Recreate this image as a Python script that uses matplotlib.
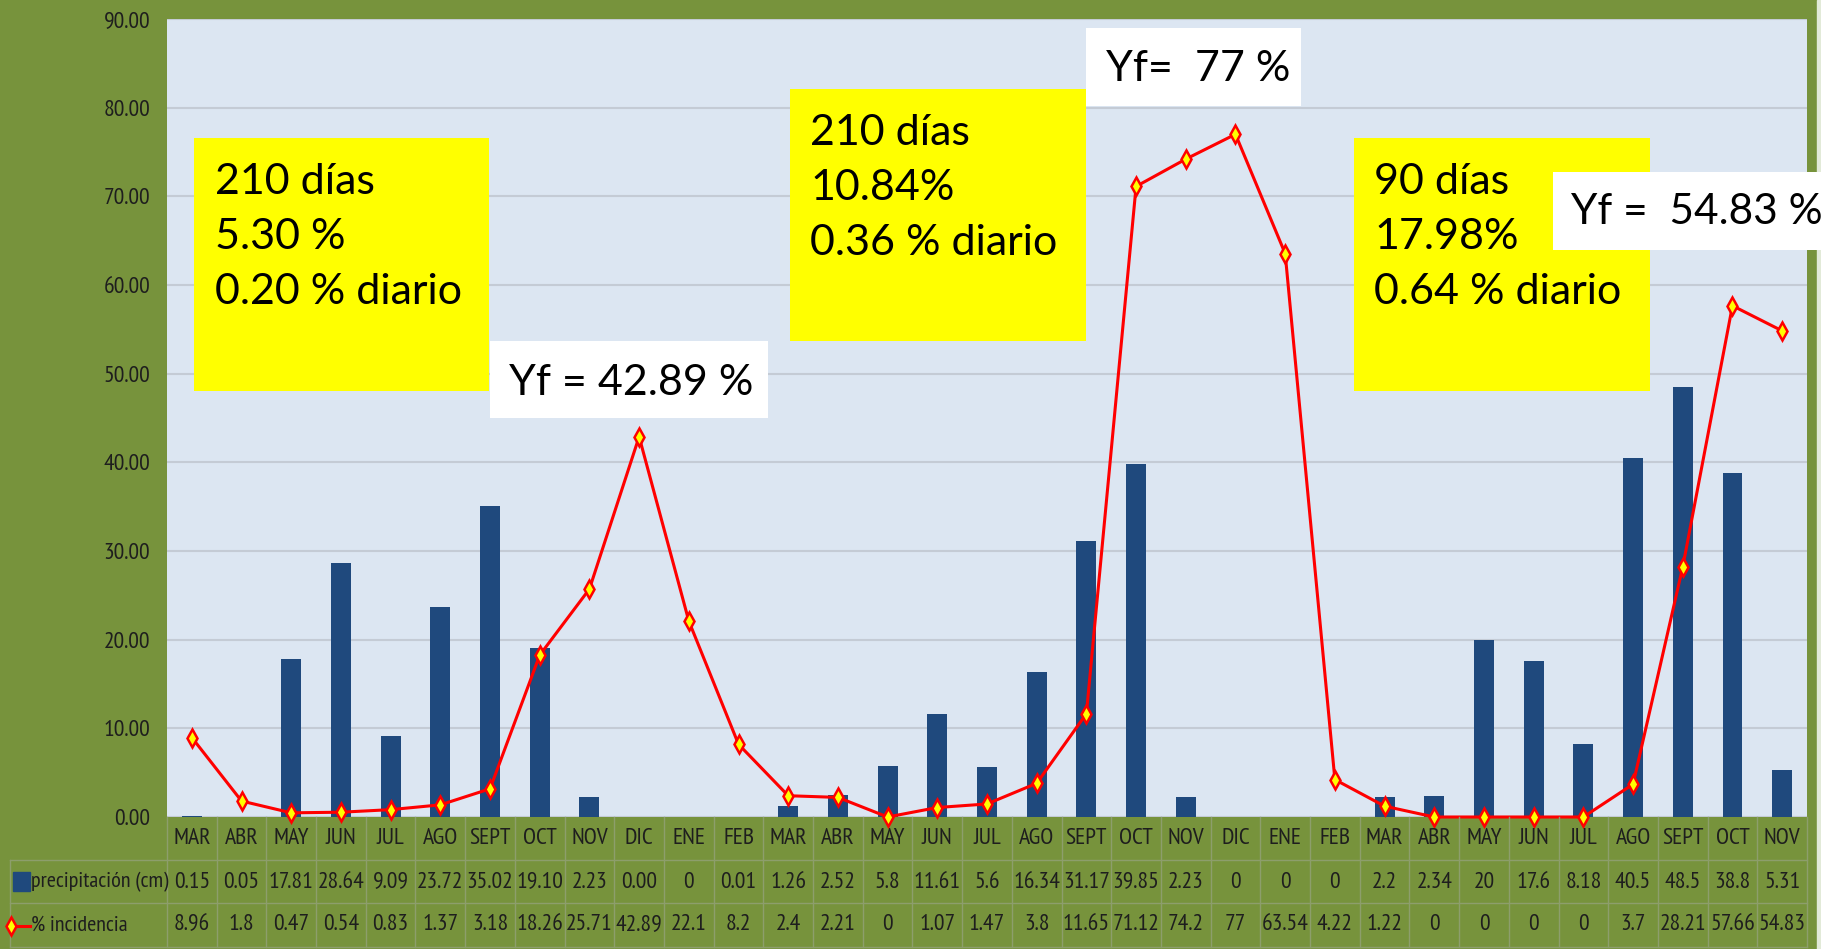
import matplotlib
matplotlib.use("AGG")
import matplotlib.pyplot as plt
from matplotlib.patches import Rectangle
from matplotlib.lines import Line2D
from matplotlib.transforms import blended_transform_factory

months = ["MAR", "ABR", "MAY", "JUN", "JUL", "AGO", "SEPT", "OCT", "NOV", "DIC", "ENE", "FEB",
          "MAR", "ABR", "MAY", "JUN", "JUL", "AGO", "SEPT", "OCT", "NOV", "DIC", "ENE", "FEB",
          "MAR", "ABR", "MAY", "JUN", "JUL", "AGO", "SEPT", "OCT", "NOV"]
precip_txt = ["0.15", "0.05", "17.81", "28.64", "9.09", "23.72", "35.02", "19.10", "2.23", "0.00", "0", "0.01",
              "1.26", "2.52", "5.8", "11.61", "5.6", "16.34", "31.17", "39.85", "2.23", "0", "0", "0",
              "2.2", "2.34", "20", "17.6", "8.18", "40.5", "48.5", "38.8", "5.31"]
incid_txt = ["8.96", "1.8", "0.47", "0.54", "0.83", "1.37", "3.18", "18.26", "25.71", "42.89", "22.1", "8.2",
             "2.4", "2.21", "0", "1.07", "1.47", "3.8", "11.65", "71.12", "74.2", "77", "63.54", "4.22",
             "1.22", "0", "0", "0", "0", "3.7", "28.21", "57.66", "54.83"]
precip = [float(v) for v in precip_txt]
incid = [float(v) for v in incid_txt]
y_ticks = [0, 10, 20, 30, 40, 50, 60, 70, 80, 90]

NARROW = ["PT Sans Narrow", "DejaVu Sans"]
BOXFONT = ["Lato", "DejaVu Sans"]
GREEN = "#77933C"
TXT = "#1e1e1e"
TS = 17  # table / tick font size

W, H = 1821, 949
fig = plt.figure(figsize=(W / 100, H / 100), dpi=100, facecolor=GREEN)
# thin light strip at the right edge, as in the original slide
fig.add_artist(Rectangle((1817 / W, 0), 4 / W, 1, color="#e2ead8", zorder=0))

ax = fig.add_axes([167 / W, 1 - 817 / H, 1640 / W, 798 / H])
ax.set_facecolor("#DCE6F2")

x = list(range(len(months)))
ax.set_xlim(-0.5, len(months) - 0.5)
ax.set_ylim(0, 90)
ax.set_yticks(y_ticks)
ax.set_yticklabels(["%.2f" % v for v in y_ticks], family=NARROW, fontsize=TS, color=TXT)
ax.tick_params(axis="y", length=0, pad=12)
ax.set_xticks([])
ax.grid(axis="y", color="#c4cbd5", lw=1.5)
ax.set_axisbelow(True)
for s in ax.spines.values():
    s.set_visible(False)

ax.bar(x, precip, width=0.4, color="#1F497D", zorder=2)
ax.plot(x, incid, color="red", lw=2.2, marker="d", ms=9, mfc="yellow", mec="red", mew=1.8,
        zorder=3, clip_on=False)

# data table below the plot
fy = lambda py: 1 - py / H
fx = lambda px: px / W
tr = blended_transform_factory(ax.transData, fig.transFigure)
line_kw = dict(color="#8d9e6c", lw=1)
for i in range(len(months) + 1):
    fig.add_artist(Line2D([i - 0.5, i - 0.5], [fy(817), fy(947)], transform=tr, **line_kw))
fig.add_artist(Line2D([fx(10), fx(10)], [fy(860), fy(947)], **line_kw))
for py in (860, 903, 947):
    fig.add_artist(Line2D([fx(10), fx(1807)], [fy(py), fy(py)], **line_kw))

for i in x:
    fig.text(i, fy(838), months[i], transform=tr, ha="center", va="center",
             family=NARROW, fontsize=TS, color=TXT)
    fig.text(i, fy(882), precip_txt[i], transform=tr, ha="center", va="center",
             family=NARROW, fontsize=TS, color=TXT)
    fig.text(i, fy(925), incid_txt[i], transform=tr, ha="center", va="center",
             family=NARROW, fontsize=TS, color=TXT)

fig.add_artist(Rectangle((fx(13), fy(891)), fx(17), 19 / H, color="#1F497D"))
fig.text(fx(31), fy(882), "precipitación (cm)", ha="left", va="center",
         family=NARROW, fontsize=TS - 1, color=TXT)
fig.add_artist(Line2D([fx(11), fx(30)], [fy(926), fy(926)], color="red", lw=2.2,
                      marker="d", ms=9, mfc="yellow", mec="red", mew=1.8, markevery=[0]))
fig.text(fx(31), fy(925), "% incidencia", ha="left", va="center",
         family=NARROW, fontsize=TS - 1, color=TXT)

# annotation boxes
def box(x0, x1, y0, y1, color):
    ax.add_patch(Rectangle((x0, y0), x1 - x0, y1 - y0, facecolor=color, edgecolor="none",
                           zorder=5, clip_on=False))

box(0.04, 5.98, 48.05, 76.6, "yellow")
ax.text(0.46, 73.8, "210 días\n5.30 %\n0.20 % diario", ha="left", va="top", family=BOXFONT,
        fontsize=31, linespacing=1.55, zorder=6)
box(12.04, 18.0, 53.7, 82.1, "yellow")
ax.text(12.44, 79.3, "210 días\n10.84%\n0.36 % diario", ha="left", va="top", family=BOXFONT,
        fontsize=31, linespacing=1.55, zorder=6)
box(23.38, 29.34, 48.05, 76.6, "yellow")
ax.text(23.79, 73.8, "90 días\n17.98%\n0.64 % diario", ha="left", va="top", family=BOXFONT,
        fontsize=31, linespacing=1.55, zorder=6)

box(6.0, 11.6, 45.0, 53.7, "white")
ax.text(6.38, 49.0, "Yf = 42.89 %", ha="left", va="center", family=BOXFONT, fontsize=31, zorder=6)
box(18.0, 22.32, 80.2, 89.0, "white")
ax.text(18.4, 84.4, "Yf=  77 %", ha="left", va="center", family=BOXFONT, fontsize=31, zorder=6)
box(27.39, 32.9, 63.95, 72.75, "white")
ax.text(27.75, 68.2, "Yf =  54.83 %", ha="left", va="center", family=BOXFONT, fontsize=30.5,
        zorder=6, clip_on=False)

fig.savefig("out.png", dpi=100, facecolor=GREEN)
